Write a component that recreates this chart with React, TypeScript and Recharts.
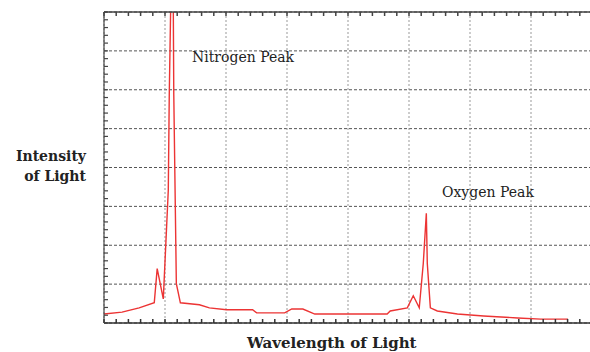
import { LineChart, Line, XAxis, YAxis, CartesianGrid } from 'recharts'

// wavelength (arbitrary units) and intensity
const wavelength = [
  0, 14.8, 28.8, 41.2, 43.6, 48.6, 52.7, 53.5, 54.7, 55.8, 56.8, 57.2, 59.3, 62.6, 78.2,
  86.4, 100.4, 121.8, 125.1, 148.1, 153.9, 163.0, 172.8, 232.1, 234.6, 248.6, 253.5,
  258.4, 261.7, 264.2, 265.0, 267.5, 273.2, 289.7, 311.1, 339.1, 358.0, 380.3,
]
const intensity = [
  2.3, 2.8, 3.9, 5.2, 14.0, 6.2, 34.2, 58.8, 82, 84, 81, 58.8, 10.1, 5.2, 4.7,
  3.9, 3.4, 3.4, 2.6, 2.6, 3.6, 3.6, 2.3, 2.3, 3.1, 3.9, 7.0,
  3.9, 15.3, 28.2, 15.3, 3.9, 3.1, 2.3, 1.8, 1.3, 1.0, 1.0,
]

const xMinorTicks = Array.from({ length: 41 }, (_, i) => i * 10)
const xMajorTicks = [0, 50, 100, 150, 200, 250, 300, 350, 400]
const yMinorTicks = Array.from({ length: 41 }, (_, i) => i * 2)
const yMajorTicks = [0, 10, 20, 30, 40, 50, 60, 70, 80]

const data = wavelength.map((w, i) => ({ w, v: intensity[i] }))

const blank = () => ''
const serif = '"DejaVu Serif", "Liberation Serif", serif'

export default function App() {
  return (
    <div
      style={{
        position: 'absolute',
        left: 0,
        top: 0,
        width: 590,
        height: 352,
        overflow: 'hidden',
        background: '#fff',
      }}
    >
      <LineChart
        width={600}
        height={352}
        data={data}
        margin={{ top: 12, right: 8, bottom: 29, left: 104 }}
      >
        <CartesianGrid
          xAxisId="b"
          yAxisId="l"
          vertical={false}
          horizontalValues={yMajorTicks}
          stroke="#555"
          strokeDasharray="3 2"
        />
        <CartesianGrid
          xAxisId="b"
          yAxisId="l"
          horizontal={false}
          verticalValues={xMajorTicks}
          stroke="#999"
          strokeDasharray="2 2"
        />
        <XAxis
          xAxisId="b"
          dataKey="w"
          type="number"
          domain={[0, 400]}
          ticks={xMinorTicks}
          interval={0}
          height={1}
          mirror
          tickSize={4}
          tickFormatter={blank}
          stroke="#333"
          strokeWidth={1.5}
        />
        <XAxis
          xAxisId="t"
          orientation="top"
          dataKey="w"
          type="number"
          domain={[0, 400]}
          ticks={xMinorTicks}
          interval={0}
          height={1}
          mirror
          tickSize={4}
          tickFormatter={blank}
          stroke="#444"
          strokeWidth={1.5}
        />
        <YAxis
          yAxisId="l"
          type="number"
          domain={[0, 80]}
          allowDataOverflow
          ticks={yMinorTicks}
          interval={0}
          width={1}
          mirror
          tickSize={4}
          tickFormatter={blank}
          stroke="#444"
          strokeWidth={1.2}
        />
        <YAxis
          yAxisId="r"
          orientation="right"
          type="number"
          domain={[0, 80]}
          ticks={yMinorTicks}
          interval={0}
          width={1}
          mirror
          tickSize={4}
          tickFormatter={blank}
          stroke="#444"
        />
        <Line
          xAxisId="b"
          yAxisId="l"
          type="linear"
          dataKey="v"
          stroke="#ec3434"
          strokeWidth={1.4}
          dot={false}
          isAnimationActive={false}
        />
      </LineChart>
      <div
        style={{
          position: 'absolute',
          left: 0,
          width: 86,
          top: 146,
          textAlign: 'right',
          fontFamily: serif,
          fontWeight: 'bold',
          fontSize: 14,
          lineHeight: '20px',
          color: '#222',
        }}
      >
        Intensity
        <br />
        of Light
      </div>
      <div
        style={{
          position: 'absolute',
          left: 247,
          top: 334,
          fontFamily: serif,
          fontWeight: 'bold',
          fontSize: 15,
          color: '#222',
          whiteSpace: 'nowrap',
        }}
      >
        Wavelength of Light
      </div>
      <div
        style={{
          position: 'absolute',
          left: 192,
          top: 49,
          fontFamily: serif,
          fontSize: 14,
          color: '#222',
          whiteSpace: 'nowrap',
        }}
      >
        Nitrogen Peak
      </div>
      <div
        style={{
          position: 'absolute',
          left: 442,
          top: 184,
          fontFamily: serif,
          fontSize: 14,
          color: '#222',
          whiteSpace: 'nowrap',
        }}
      >
        Oxygen Peak
      </div>
    </div>
  )
}
